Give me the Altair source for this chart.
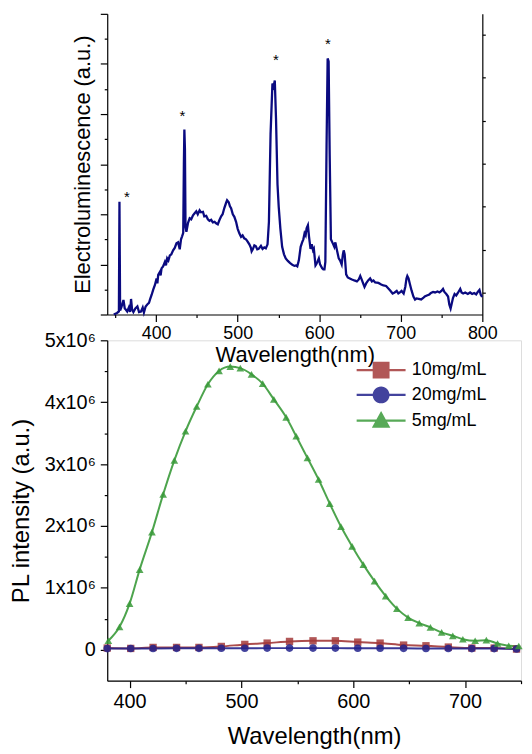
import altair as alt
import pandas as pd

FONT = "Liberation Sans, Arial, sans-serif"

# ---------------- top panel: electroluminescence spectrum ----------------
el_nm = [348, 352, 354.3, 355, 355.8, 357.5, 359.9, 361.5, 362.7, 364.5, 366.5, 368.0, 369.2, 370.5,
         372.1, 374.5, 377, 379, 381.4, 383.5, 385, 387.1, 389.1, 391.2, 392.5, 394.4, 396.5, 398.5,
         400.5, 401.5, 402.5, 404.6, 405.5, 406.6, 408.5, 410.7, 412, 413.5, 415, 416.8, 418.5, 420.8,
         422.8, 424.9, 426.9, 428.9, 430.5, 431.8, 433.2, 434.0, 434.6, 435.3, 436.0, 437.1, 439.1,
         441.1, 443, 445.2, 447.2, 449.2, 451, 453.3, 455, 457.4, 459, 461.4, 463.4, 465.4, 467.5,
         469.5, 471.6, 473.5, 475.6, 477.5, 479.7, 481.5, 483.5, 485.8, 487, 489, 490.5, 491.9, 494,
         495.9, 498, 500, 502, 504.1, 506, 508, 510.2, 512, 514.3, 516.2, 517.1, 518.5, 520.4, 522.3,
         524, 525.7, 528.5, 530.5, 532.6, 534.5, 536.6, 538.3, 540.3, 542.6, 544.0, 545.5, 547.0,
         548.8, 550.3, 552.3, 554.5, 556.8, 558.9, 561.5, 564, 567, 569.5, 571.5, 573.1, 575, 577.2,
         579, 580.5, 582, 583.3, 584.5, 586.1, 587.5, 589.3, 590.8, 592.4, 593.4, 595.4, 596.2, 598,
         599.5, 601, 603.6, 605, 606.4, 607.5, 609.0, 610.3, 611.5, 612.8, 614.3, 616.9, 618.5, 619.8,
         621.5, 623.9, 625.5, 627.5, 629, 630, 631.2, 633, 635, 637.5, 640.1, 643, 646.2, 648.5, 650.3,
         652, 654.3, 655.5, 657.5, 660, 662.4, 664.5, 666.5, 668.6, 672.6, 676, 678.7, 682, 684.8, 687,
         690, 692.5, 695, 697, 699, 701, 703.5, 705.5, 707, 708, 709.5, 711, 713.2, 715.5, 717.5, 719.3,
         722, 725, 727.5, 729.4, 732, 735, 737, 739.6, 742, 745, 747.5, 749.8, 751.8, 753.5, 755.8, 758,
         759.5, 761.1, 762.5, 764, 766, 768, 770, 772.9, 774.5, 776.5, 779, 782.2, 785, 787.5, 790,
         792.5, 794.4, 796.5, 798, 799.7]
el_val = [0.0, 0.03, 0.06, 2.25, 0.08, 0.15, 0.29, 0.12, 0.10, 0.06, 0.14, 0.05, 0.31, 0.10,
          0.05, 0.12, 0.16, 0.05, 0.06, 0.14, 0.04, 0.16, 0.20, 0.23, 0.30, 0.39, 0.50, 0.59,
          0.72, 0.62, 0.79, 0.85, 0.78, 0.92, 0.96, 1.05, 0.98, 1.12, 1.08, 1.18, 1.20, 1.28,
          1.33, 1.42, 1.44, 1.30, 1.50, 1.56, 1.63, 3.00, 3.69, 3.30, 1.75, 1.65, 1.83,
          1.92, 1.90, 1.98, 2.02, 2.06, 2.00, 2.08, 2.04, 2.05, 1.96, 1.97, 1.90, 1.87, 1.89,
          1.84, 1.85, 1.82, 1.80, 1.88, 1.96, 2.00, 2.12, 2.23, 2.28, 2.24, 2.16, 2.12, 2.00,
          1.95, 1.85, 1.71, 1.62, 1.55, 1.58, 1.52, 1.50, 1.46, 1.40, 1.33, 1.26, 1.30, 1.38, 1.36,
          1.30, 1.31, 1.37, 1.31, 1.34, 1.32, 1.40, 1.85, 3.60, 4.61, 4.55, 4.67, 3.90,
          2.60, 2.15, 1.72, 1.35, 1.20, 1.12, 1.07, 1.03, 0.99, 0.97, 0.98, 0.96, 1.08, 1.35,
          1.44, 1.50, 1.62, 1.58, 1.72, 1.78, 1.55, 1.31, 1.40, 1.28, 1.31, 0.98, 1.00, 1.06,
          1.12, 1.00, 0.92, 0.90, 0.90, 1.05, 3.40, 5.11, 5.05, 3.20, 1.50, 1.41, 1.35, 1.44,
          1.30, 1.12, 1.08, 1.00, 1.20, 1.28, 1.20, 0.80, 0.74, 0.72, 0.70, 0.68, 0.66, 0.70, 0.77,
          0.70, 0.60, 0.55, 0.62, 0.68, 0.72, 0.66, 0.68, 0.64, 0.63, 0.60, 0.58, 0.57, 0.52, 0.48,
          0.42, 0.44, 0.47, 0.42, 0.44, 0.47, 0.42, 0.55, 0.72, 0.77, 0.72, 0.62, 0.48, 0.36, 0.30, 0.32,
          0.31, 0.30, 0.33, 0.36, 0.38, 0.40, 0.43, 0.45, 0.44, 0.46, 0.44, 0.47, 0.51, 0.45, 0.41, 0.36,
          0.20, 0.12, 0.22, 0.33, 0.41, 0.38, 0.43, 0.51, 0.44, 0.42, 0.44, 0.41, 0.44, 0.41, 0.43,
          0.40, 0.45, 0.49, 0.40, 0.35]
star_nm = [364, 432.2, 546.7, 610.5]
star_val = [2.40, 4.02, 5.13, 5.45]

top_x_major = [400, 500, 600, 700, 800]
top_x_minor = [350, 450, 550, 650, 750]
top_y_major = [0, 1, 2, 3, 4, 5, 6]
top_y_minor = [0.5, 1.5, 2.5, 3.5, 4.5, 5.5]
top_right_ticks = [0, 1, 2, 3, 4, 5, 6]

# ---------------- bottom panel: PL spectra ----------------
series_names = ["10mg/mL", "20mg/mL", "5mg/mL"]
series_colors = ["#a33a3a", "#22228c", "#3a9a3a"]
series_shapes = ["square", "circle", "triangle-up"]
series_sizes = [55, 60, 70]

red_nm = [380, 401, 421, 442, 462, 482, 503, 523, 543, 564, 584, 604, 624, 645, 665, 685, 706, 726, 746]
red_val = [0.027, 0.021, 0.037, 0.037, 0.037, 0.053, 0.086, 0.107, 0.134, 0.144, 0.144, 0.123, 0.107,
           0.075, 0.064, 0.043, 0.027, 0.027, 0.011]
blue_nm = red_nm
blue_val = [0.018, 0.020, 0.020, 0.022, 0.022, 0.024, 0.025, 0.026, 0.026, 0.026, 0.026, 0.025, 0.024,
            0.022, 0.020, 0.020, 0.018, 0.018, 0.012]
green_nm = [381, 391, 400, 409, 420, 430, 440, 450, 460, 470, 480, 490, 499, 509, 519, 529, 540, 549,
            559, 569, 579, 589, 599, 609, 619, 629, 639, 649, 659, 669, 679, 689, 698, 709, 719, 729,
            739, 748]
green_val = [0.145, 0.37, 0.745, 1.295, 1.90, 2.51, 3.06, 3.53, 3.93, 4.29, 4.505, 4.575, 4.55, 4.45,
             4.30, 4.045, 3.755, 3.45, 3.10, 2.75, 2.36, 1.99, 1.67, 1.375, 1.108, 0.867, 0.664, 0.52,
             0.43, 0.36, 0.28, 0.225, 0.17, 0.145, 0.155, 0.10, 0.065, 0.06]

bot_x_major = [400, 500, 600, 700]
bot_x_minor = [450, 550, 650, 750]
bot_y_major = [0, 1e6, 2e6, 3e6, 4e6, 5e6]
bot_y_minor = [5e5, 1.5e6, 2.5e6, 3.5e6, 4.5e6]

# legend symbols: a line segment through the marker
LINE_SEG = "M-2.9,-0.13H2.9V0.13H-2.9Z"
legend_paths = [
    LINE_SEG + "M-1,-1H1V1H-1Z",
    LINE_SEG + "M-1,0A1,1,0,1,1,1,0A1,1,0,1,1,-1,0Z",
    LINE_SEG + "M0,-1.15L1.1,0.85H-1.1Z",
]

# ---------------- build data frames ----------------
el_df = pd.DataFrame({"nm": el_nm, "el": el_val})
star_df = pd.DataFrame({"nm": star_nm, "el": star_val, "t": ["*"] * len(star_nm)})

rows = []
for name, xs, ys in [(series_names[0], red_nm, red_val),
                     (series_names[1], blue_nm, blue_val),
                     (series_names[2], green_nm, green_val)]:
    for a, b in zip(xs, ys):
        rows.append({"nm": a, "v": b * 1e6, "s": name})
pl_df = pd.DataFrame(rows)


def ax(**kw):
    base = dict(domainColor="black", tickColor="black", labelColor="black", titleColor="black",
                labelFont=FONT, titleFont=FONT, grid=False, domainWidth=1.2, tickWidth=1.2,
                titleFontWeight="normal", labelFlush=False, labelOverlap=False)
    base.update(kw)
    return alt.Axis(**base)


# ---------------- top chart ----------------
xs_top = alt.Scale(domain=[340, 800], nice=False, zero=False)
ys_top = alt.Scale(domain=[0, 6], nice=False, zero=False)
ys_right = alt.Scale(domain=[-0.5, 6.48], nice=False, zero=False)

TOP_W, TOP_H = 378, 303

top_line = alt.Chart(el_df).mark_line(color="#0a0a80", strokeWidth=2.3).encode(
    x=alt.X("nm:Q", scale=xs_top,
            axis=ax(orient="bottom", values=top_x_major, tickSize=7, labelFontSize=18,
                    labelPadding=3, title="Wavelength(nm)", titleFontSize=22, titlePadding=2)),
    y=alt.Y("el:Q", scale=ys_top,
            axis=ax(orient="left", values=top_y_major, tickSize=7, labels=False,
                    title="Electroluminescence (a.u.)", titleFontSize=22, titlePadding=5)),
)

top_stars = alt.Chart(star_df).mark_text(fontSize=15, font=FONT, color="black", baseline="middle",
                                         dy=3).encode(
    x=alt.X("nm:Q", scale=xs_top,
            axis=ax(orient="bottom", values=top_x_minor, tickSize=3, labels=False, domain=False,
                    title=None)),
    y=alt.Y("el:Q", scale=ys_top,
            axis=ax(orient="left", values=top_y_minor, tickSize=3, labels=False, domain=False,
                    title=None)),
    text="t:N",
)

top_right = alt.Chart(el_df).mark_line(strokeOpacity=0).encode(
    x=alt.X("nm:Q", scale=xs_top, axis=None),
    y=alt.Y("el:Q", scale=ys_right,
            axis=ax(orient="right", values=top_right_ticks, tickSize=3, labels=False, title=None)),
)

top = alt.layer(top_line, top_stars, top_right).resolve_scale(y="independent").resolve_axis(
    x="independent", y="independent").properties(
    width=TOP_W, height=TOP_H, view=alt.ViewBackground(strokeOpacity=0))

# ---------------- bottom chart ----------------
xs_bot = alt.Scale(domain=[380, 750], nice=False, zero=False)
ys_bot = alt.Scale(domain=[-5e5, 5e6], nice=False, zero=False)
col_scale = alt.Scale(domain=series_names, range=series_colors)

BOT_W, BOT_H = 417, 343

y_label_expr = "datum.value == 0 ? '0' : format(datum.value / 1000000, 'd') + 'x10\u2076'"

bot_lines = alt.Chart(pl_df).mark_line(interpolate="monotone", strokeWidth=2, opacity=0.9).encode(
    x=alt.X("nm:Q", scale=xs_bot,
            axis=ax(orient="bottom", values=bot_x_major, tickSize=7, labelFontSize=20,
                    labelPadding=4, title="Wavelength(nm)", titleFontSize=24, titlePadding=13)),
    y=alt.Y("v:Q", scale=ys_bot,
            axis=ax(orient="left", values=bot_y_major, tickSize=7, labelFontSize=20,
                    labelPadding=5, labelExpr=y_label_expr, title="PL intensity (a.u.)",
                    titleFontSize=24, titlePadding=11)),
    color=alt.Color("s:N", scale=col_scale, legend=None),
    detail="s:N",
)

bot_points = alt.Chart(pl_df).mark_point(filled=True, opacity=0.85).encode(
    x=alt.X("nm:Q", scale=xs_bot,
            axis=ax(orient="bottom", values=bot_x_minor, tickSize=3, labels=False, domain=False,
                    title=None)),
    y=alt.Y("v:Q", scale=ys_bot,
            axis=ax(orient="left", values=bot_y_minor, tickSize=3, labels=False, domain=False,
                    title=None)),
    color=alt.Color("s:N", scale=col_scale, legend=None),
    shape=alt.Shape("s:N", scale=alt.Scale(domain=series_names, range=series_shapes), legend=None),
    size=alt.Size("s:N", scale=alt.Scale(domain=series_names, range=series_sizes), legend=None),
)

legend_cfg = alt.Legend(orient="none", legendX=267, legendY=21, title=None, labelFont=FONT,
                        labelFontSize=18, labelColor="black", symbolSize=289, labelOffset=22,
                        rowPadding=7, padding=0, symbolStrokeWidth=0)

bot_legend = alt.Chart(pl_df).transform_filter("datum.v < -1e12").mark_point(
    filled=True, opacity=0.85, size=289).encode(
    color=alt.Color("s:N", scale=alt.Scale(domain=series_names, range=series_colors),
                    legend=legend_cfg),
    shape=alt.Shape("s:N", scale=alt.Scale(domain=series_names, range=legend_paths),
                    legend=legend_cfg),
)

bottom = alt.layer(bot_lines, bot_points, bot_legend).resolve_scale(
    color="independent", shape="independent").resolve_axis(
    x="independent", y="independent").properties(width=BOT_W, height=BOT_H)

chart = alt.vconcat(top, bottom, spacing=26, bounds="flush").properties(
    padding={"left": 0, "top": 2, "right": 0, "bottom": 0}
).configure_view(stroke="black", strokeWidth=1.2).configure(font=FONT)

chart.save("out.html", embed_options={"renderer": "svg", "actions": False})
